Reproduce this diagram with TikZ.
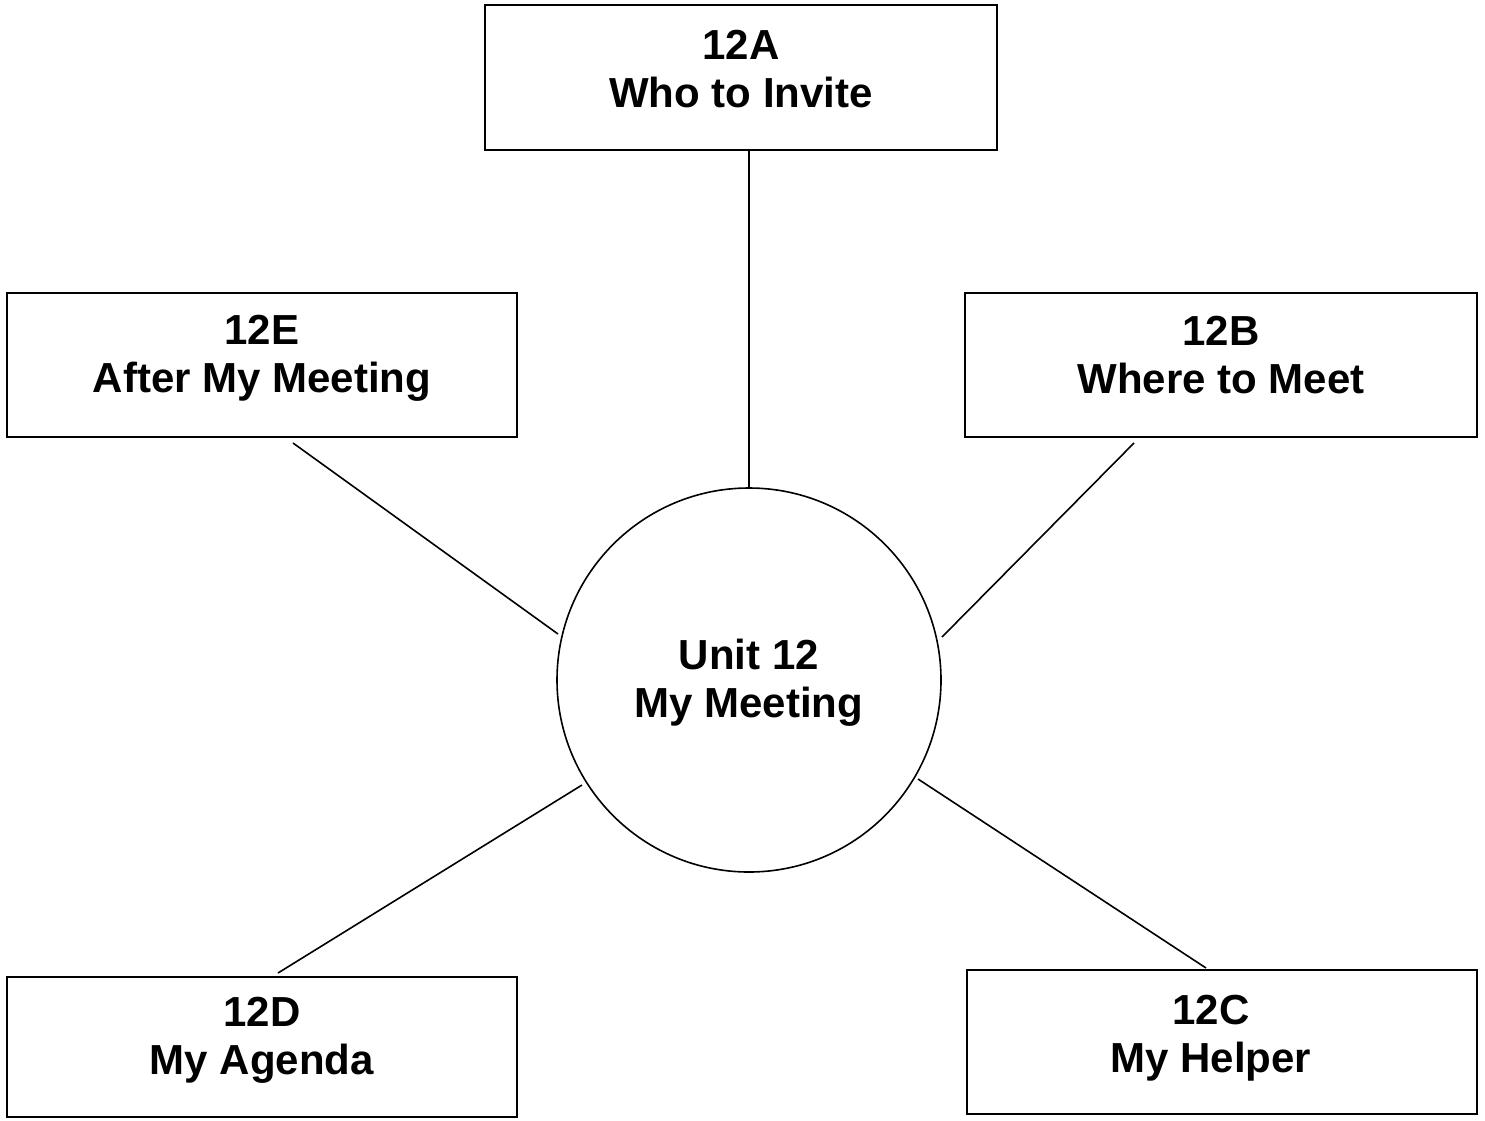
\documentclass[tikz,border=0pt]{standalone}
\usepackage{fontspec}
\setmainfont{Liberation Sans}
\begin{document}
\begin{tikzpicture}[x=1pt,y=-1pt,
  box/.style={draw,line width=1.6pt,minimum width=510pt,minimum height=144pt,inner sep=0pt},
  lbl/.style={inner sep=0pt,align=center,font=\fontsize{42}{48}\selectfont\bfseries},
  hub/.style={draw,circle,line width=1.6pt,minimum size=384pt,inner sep=0pt,
    align=center,font=\fontsize{42}{48}\selectfont\bfseries},
  link/.style={line width=1.6pt}]
\useasboundingbox (0,0) rectangle (1485,1120);
\node[box,minimum width=512pt,minimum height=145pt] (a) at (741,77.5) {};
\node[lbl] (at) at ([yshift=8pt]a.center) {12A\\Who to Invite};
\node[box] (e) at (262,365) {};
\node[lbl] (et) at ([yshift=7pt]e.center) {12E\\After My Meeting};
\node[box,minimum width=512pt] (b) at (1221,365) {};
\node[lbl] (bt) at ([yshift=10pt]b.center) {12B\\Where to Meet};
\node[box,minimum height=140pt] (d) at (262,1047) {};
\node[lbl] (dt) at ([yshift=7pt]d.center) {12D\\My Agenda};
\node[box] (c) at (1222,1042) {};
\node[lbl] (ct) at ([xshift=-11pt,yshift=4pt]c.center) {12C\\My Helper};
\node[hub] (u) at (749,680) {};
\node[lbl] (ut) at ([yshift=-3pt]u.center) {Unit 12\\My Meeting};
\coordinate (ea) at (293,443);
\coordinate (eb) at (558,634);
\coordinate (ba) at (1134,443);
\coordinate (bb) at (942,637);
\coordinate (da) at (278,973);
\coordinate (db) at (582,785);
\coordinate (ca) at (1206,968);
\coordinate (cb) at (918,779);
\draw[link] (a.south -| u.north) -- (u.north);
\draw[link] (ea) -- (eb);
\draw[link] (ba) -- (bb);
\draw[link] (da) -- (db);
\draw[link] (ca) -- (cb);
\end{tikzpicture}
\end{document}
